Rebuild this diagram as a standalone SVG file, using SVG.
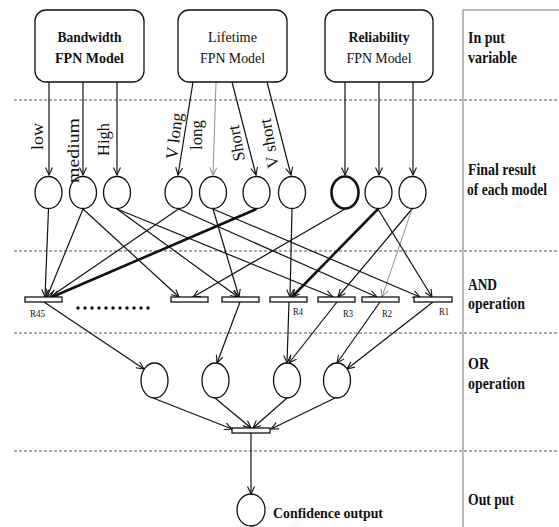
<svg xmlns="http://www.w3.org/2000/svg" width="559" height="527" viewBox="0 0 559 527">
<defs>
<marker id="arr" markerUnits="userSpaceOnUse" markerWidth="10" markerHeight="9" refX="8" refY="4" orient="auto"><path d="M0.5,0.5 L8,4 L0.5,7.5" fill="none" stroke="#111" stroke-width="1.1"/></marker>
<marker id="arrg" markerUnits="userSpaceOnUse" markerWidth="10" markerHeight="9" refX="8" refY="4" orient="auto"><path d="M0.5,0.5 L8,4 L0.5,7.5" fill="none" stroke="#888" stroke-width="1"/></marker>
</defs>
<style>
.box{fill:#fff;stroke:#111;stroke-width:1.3}
.pl{fill:#fff;stroke:#111;stroke-width:1.3}
.plb{fill:#fff;stroke:#111;stroke-width:2.6}
.bar{fill:#fff;stroke:#111;stroke-width:1.3}
.dash{stroke:#555;stroke-width:1;stroke-dasharray:3 2;fill:none}
.frame{stroke:#777;stroke-width:1;fill:none}
.c{fill:none;stroke:#111;stroke-width:1.2;marker-end:url(#arr)}
.cb{stroke-width:2.6}
.cg{fill:none;stroke:#888;stroke-width:0.9;marker-end:url(#arrg)}
text{font-family:"Liberation Serif","Times New Roman",serif;fill:#111}
.b{font-weight:bold}
.t{font-size:15px;text-anchor:middle}
.side{font-size:16px;font-weight:bold}
.lab{font-size:17px}
.rl{font-size:10px}
</style>
<rect width="559" height="527" fill="#fff"/>
<g id="frame">
<path class="frame" d="M463,10 H559 M463,10 V527"/>
<path class="dash" d="M14,100 H557 M14,251 H557 M14,333 H557 M14,451 H557"/>
</g>
<g id="connectors">
<path class="c" d="M49,82 V175"/>
<path class="c" d="M83,82 V175"/>
<path class="c" d="M117,82 V175"/>
<path class="c" d="M193,82 L178,175"/>
<path class="cg" d="M216,82 L213,175"/>
<path class="c" d="M232,82 L256,175"/>
<path class="c" d="M267,82 L291,175"/>
<path class="c" d="M345,82 V175"/>
<path class="c" d="M379,82 V175"/>
<path class="c" d="M413,82 V175"/>
<path class="c" d="M48.5,209 L45,297"/>
<path class="c" d="M83,209 L47,297"/>
<path class="c" d="M178.5,209 L50,297"/>
<path class="c cb" d="M256.5,209 L52,297"/>
<path class="c" d="M83,209 L179,297"/>
<path class="c" d="M345,209 L193,297"/>
<path class="c" d="M117,209 L238,297"/>
<path class="c" d="M213,209 L239,297"/>
<path class="c" d="M292,209 L290,297"/>
<path class="c cb" d="M378,209 L292,297"/>
<path class="c" d="M117,209 L333,297"/>
<path class="c" d="M412,209 L338,297"/>
<path class="c" d="M178.5,209 L377,297"/>
<path class="cg" d="M412,209 L382,297"/>
<path class="c" d="M213,209 L420,297"/>
<path class="c" d="M378,209 L432,297"/>
<path class="c" d="M44,302 L144,369"/>
<path class="c" d="M240,302 L217,363"/>
<path class="c" d="M289,302 L287,363"/>
<path class="c" d="M337,302 L289,363"/>
<path class="c" d="M380,302 L337,363"/>
<path class="c" d="M433,302 L347,369"/>
<path class="c" d="M153,398 L232,429"/>
<path class="c" d="M215,398 L251,428"/>
<path class="c" d="M287,398 L253,428"/>
<path class="c" d="M335,398 L271,429"/>
<path class="c" d="M251,433 V494"/>
</g>
<g id="bandwidth">
<rect class="box" x="35" y="10" width="109" height="72" rx="11"/>
<text class="t b" x="89.5" y="42" textLength="64" lengthAdjust="spacingAndGlyphs">Bandwidth</text>
<text class="t b" x="89.5" y="63" textLength="69" lengthAdjust="spacingAndGlyphs">FPN Model</text>
</g>
<g id="lifetime">
<rect class="box" x="178" y="10" width="109" height="72" rx="11"/>
<text class="t" x="232.5" y="42" textLength="49" lengthAdjust="spacingAndGlyphs">Lifetime</text>
<text class="t" x="232.5" y="63" textLength="65" lengthAdjust="spacingAndGlyphs">FPN Model</text>
</g>
<g id="reliability">
<rect class="box" x="325" y="10" width="108" height="72" rx="11"/>
<text class="t b" x="379" y="42" textLength="61" lengthAdjust="spacingAndGlyphs">Reliability</text>
<text class="t" x="379" y="63" textLength="65" lengthAdjust="spacingAndGlyphs">FPN Model</text>
</g>
<g id="p-low"><ellipse class="pl" cx="48.5" cy="192.5" rx="13.5" ry="16"/></g>
<g id="p-medium"><ellipse class="pl" cx="83" cy="192.5" rx="13.5" ry="16"/></g>
<g id="p-high"><ellipse class="pl" cx="117" cy="192.5" rx="13.5" ry="16"/></g>
<g id="p-vlong"><ellipse class="pl" cx="178.5" cy="192.5" rx="13.5" ry="16"/></g>
<g id="p-long"><ellipse class="pl" cx="213" cy="192.5" rx="13.5" ry="16"/></g>
<g id="p-short"><ellipse class="pl" cx="256.5" cy="192.5" rx="13.5" ry="16"/></g>
<g id="p-vshort"><ellipse class="pl" cx="292" cy="192.5" rx="13.5" ry="16"/></g>
<g id="p-rel1"><ellipse class="plb" cx="345" cy="192.5" rx="13.5" ry="16"/></g>
<g id="p-rel2"><ellipse class="pl" cx="378.5" cy="192.5" rx="13.5" ry="16"/></g>
<g id="p-rel3"><ellipse class="pl" cx="412.5" cy="192.5" rx="13.5" ry="16"/></g>
<g id="labels">
<text class="lab" transform="translate(43,150) rotate(-90)" textLength="27" lengthAdjust="spacingAndGlyphs">low</text>
<text class="lab" transform="translate(79,183) rotate(-90)" textLength="65" lengthAdjust="spacingAndGlyphs">medium</text>
<text class="lab" transform="translate(109,156) rotate(-90)" textLength="33" lengthAdjust="spacingAndGlyphs">High</text>
<text class="lab" transform="translate(177,160) rotate(-83)" textLength="47" lengthAdjust="spacingAndGlyphs">V long</text>
<text class="lab" transform="translate(202,150) rotate(-90)" textLength="30" lengthAdjust="spacingAndGlyphs">long</text>
<text class="lab" transform="translate(245,160) rotate(-100)" textLength="36" lengthAdjust="spacingAndGlyphs">Short</text>
<text class="lab" transform="translate(279,167) rotate(-100)" textLength="50" lengthAdjust="spacingAndGlyphs">V short</text>
</g>
<g id="t-r45"><rect class="bar" x="25" y="297" width="37" height="5"/><text class="rl" x="30" y="317" textLength="15" lengthAdjust="spacingAndGlyphs">R45</text></g>
<g id="dots" fill="#111">
<circle cx="78" cy="308" r="1.7"/><circle cx="85" cy="308" r="1.7"/><circle cx="92" cy="308" r="1.7"/><circle cx="99" cy="308" r="1.7"/><circle cx="106" cy="308" r="1.7"/><circle cx="113" cy="308" r="1.7"/><circle cx="120" cy="308" r="1.7"/><circle cx="127" cy="308" r="1.7"/><circle cx="134" cy="308" r="1.7"/><circle cx="141" cy="308" r="1.7"/><circle cx="148" cy="308" r="1.7"/>
</g>
<g id="t-a"><rect class="bar" x="171" y="297" width="37" height="5"/></g>
<g id="t-b"><rect class="bar" x="222" y="297" width="37" height="5"/></g>
<g id="t-r4"><rect class="bar" x="270" y="297" width="37" height="5"/><text class="rl" x="293" y="315" textLength="10" lengthAdjust="spacingAndGlyphs">R4</text></g>
<g id="t-r3"><rect class="bar" x="318" y="297" width="37" height="5"/><text class="rl" x="343" y="317" textLength="10" lengthAdjust="spacingAndGlyphs">R3</text></g>
<g id="t-r2"><rect class="bar" x="362" y="297" width="37" height="5"/><text class="rl" x="382" y="317" textLength="10" lengthAdjust="spacingAndGlyphs">R2</text></g>
<g id="t-r1"><rect class="bar" x="414" y="297" width="38" height="5"/><text class="rl" x="439" y="315" textLength="10" lengthAdjust="spacingAndGlyphs">R1</text></g>
<g id="or1"><ellipse class="pl" cx="154.5" cy="380.5" rx="13.5" ry="17.5"/></g>
<g id="or2"><ellipse class="pl" cx="215.5" cy="380.5" rx="13.5" ry="17.5"/></g>
<g id="or3"><ellipse class="pl" cx="287" cy="380.5" rx="13.5" ry="17.5"/></g>
<g id="or4"><ellipse class="pl" cx="337" cy="380.5" rx="13.5" ry="17.5"/></g>
<g id="t-final"><rect class="bar" x="232" y="428" width="38" height="5"/></g>
<g id="output">
<ellipse class="pl" cx="251" cy="510" rx="14" ry="16"/>
<text class="b" x="273" y="518" font-size="15" textLength="110" lengthAdjust="spacingAndGlyphs">Confidence output</text>
</g>
<g id="side-labels">
<text class="side" x="468" y="43" textLength="37" lengthAdjust="spacingAndGlyphs">In put</text>
<text class="side" x="468" y="63" textLength="49" lengthAdjust="spacingAndGlyphs">variable</text>
<text class="side" x="468" y="175" textLength="68" lengthAdjust="spacingAndGlyphs">Final result</text>
<text class="side" x="467" y="195" font-size="15" textLength="80" lengthAdjust="spacingAndGlyphs">of each model</text>
<text class="side" x="468" y="290" textLength="29" lengthAdjust="spacingAndGlyphs">AND</text>
<text class="side" x="468" y="309" textLength="57" lengthAdjust="spacingAndGlyphs">operation</text>
<text class="side" x="468" y="369" textLength="21" lengthAdjust="spacingAndGlyphs">OR</text>
<text class="side" x="468" y="389" textLength="57" lengthAdjust="spacingAndGlyphs">operation</text>
<text class="side" x="468" y="505" textLength="46" lengthAdjust="spacingAndGlyphs">Out put</text>
</g>
</svg>
